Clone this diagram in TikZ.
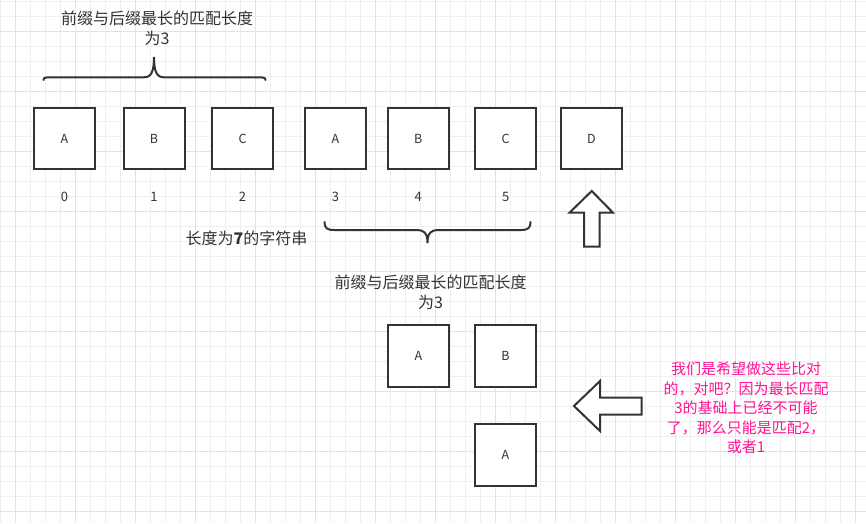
\documentclass[tikz,border=0pt]{standalone}
\usepackage{fontspec}
\setmainfont{Noto Sans CJK SC}
\definecolor{inkgray}{HTML}{333333}
\definecolor{gridminor}{HTML}{EFEFEF}
\definecolor{gridmajor}{HTML}{E2E2E2}
\definecolor{notepink}{HTML}{FF1493}
\tikzset{
  cell/.style={draw=inkgray, line width=2pt, fill=white, minimum width=61pt,
    minimum height=61.5pt, inner sep=0pt, font=\fontsize{12.5}{14}\selectfont, text=inkgray},
  idx/.style={font=\fontsize{13}{15}\selectfont, text=inkgray},
  caption/.style={align=center, font=\fontsize{16}{20}\selectfont, text=inkgray},
  note/.style={align=center, font=\fontsize{15}{19.5}\selectfont, text=notepink},
  bigarrow/.style={draw=inkgray, line width=2pt, fill=white, line join=miter},
  curly/.style={draw=inkgray, line width=2pt, line cap=round},
}
\begin{document}
\begin{tikzpicture}[x=1pt,y=-1pt]
        % background and grid
        \fill[white] (0,0) rectangle (866,523);
        \useasboundingbox (0,0) rectangle (866,523);
        \foreach \x in {0,15,...,855}
            \draw[gridminor, line width=1pt] (\x,0) -- (\x,523);
        \foreach \y in {1,16,...,511}
            \draw[gridminor, line width=1pt] (0,\y) -- (866,\y);
        \foreach \x in {15,75,...,855}
            \draw[gridmajor, line width=1pt] (\x,0) -- (\x,523);
        \foreach \y in {31,91,...,511}
            \draw[gridmajor, line width=1pt] (0,\y) -- (866,\y);
        % the string of length 7
        \foreach \name/\x/\txt in {c0/64.5/A, c1/154/B, c2/242.5/C, c3/335.5/A, c4/418.3/B, c5/505.7/C, c6/591.5/D}
            \node[cell] (\name) at (\x,138.5) {\txt};
        \foreach \i/\x in {0/64.5, 1/154, 2/242.5, 3/335.5, 4/418.3, 5/505.7}
            \node[idx] (n\i) at (\x,196.5) {\i};
        % braces
        \coordinate (tl) at (43.5,80);
        \coordinate (tt) at (154,57);
        \coordinate (tr) at (265.5,80);
        \draw[curly] (tl) .. controls (43.5,77.3) and (46,77.3) .. (52,77.3) -- (144,77.3)
            .. controls (151,77.3) and (154,72) .. (tt)
            .. controls (154,72) and (157,77.3) .. (164,77.3) -- (257,77.3)
            .. controls (263,77.3) and (265.5,77.3) .. (tr);
        \coordinate (bl) at (324.5,222);
        \coordinate (bt) at (427.5,243);
        \coordinate (br) at (530.5,222);
        \draw[curly] (bl) .. controls (324.5,228) and (327,230) .. (334,230) -- (417,230)
            .. controls (424,230) and (427.5,233) .. (bt)
            .. controls (427.5,233) and (431,230) .. (438,230) -- (521,230)
            .. controls (528,230) and (530.5,228) .. (br);
        \node[caption] (cap1) at (157,28) {前缀与后缀最长的匹配长度\\为3};
        \node[caption] (str) at (246.5,238) {长度为\textbf{7}的字符串};
        \node[caption] (cap2) at (430.5,292) {前缀与后缀最长的匹配长度\\为3};
        % shifted pattern
        \node[cell] (p0) at (418.3,356) {A};
        \node[cell] (p1) at (505.5,356) {B};
        \node[cell] (p2) at (505.5,455) {A};
        % arrows
        \draw[bigarrow] (591.7,191) -- (613,212.7) -- (599.5,212.7) -- (599.5,246.5)
            -- (584,246.5) -- (584,212.7) -- (569.5,212.7) -- cycle;
        \draw[bigarrow] (574,406) -- (600,381) -- (600,397.7) -- (641.5,397.7)
            -- (641.5,414.5) -- (600,414.5) -- (600,431) -- cycle;
        \node[note] (note) at (746,408) {我们是希望做这些比对\\的，对吧？因为最长匹配\\3的基础上已经不可能\\了，那么只能是匹配2，\\或者1};
    \end{tikzpicture}
\end{document}
